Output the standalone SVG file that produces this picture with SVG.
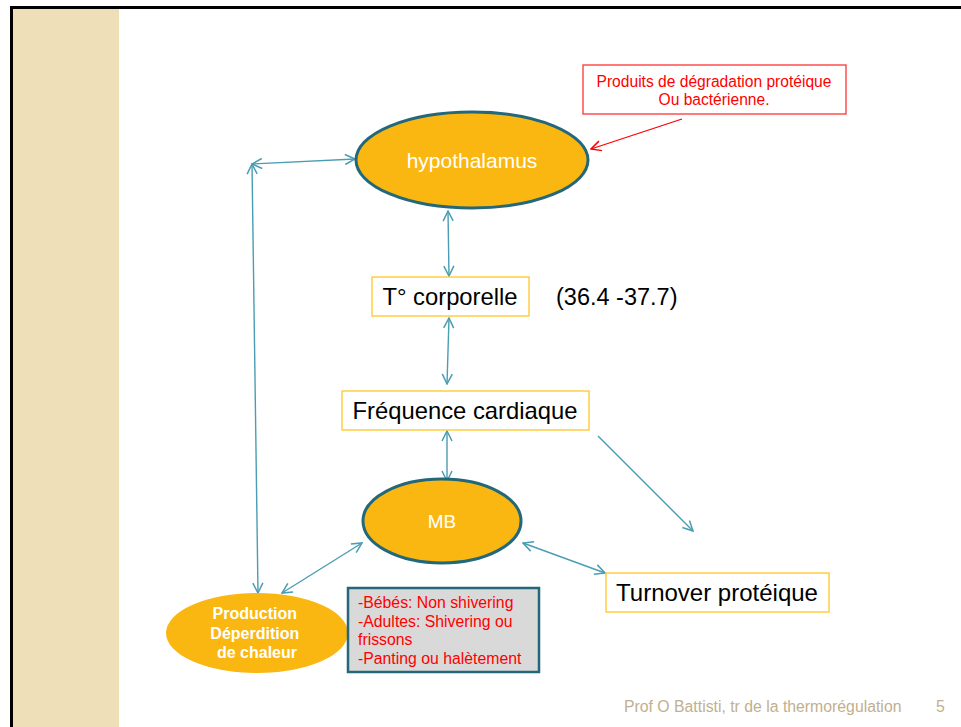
<svg xmlns="http://www.w3.org/2000/svg" width="961" height="727" viewBox="0 0 961 727">
<defs>
<marker id="ah" viewBox="0 0 12 12" refX="11" refY="6" markerWidth="12" markerHeight="12" markerUnits="userSpaceOnUse" orient="auto-start-reverse">
<path d="M1,1 L11,6 L1,11" fill="none" stroke="#4A9DB3" stroke-width="1.5"/>
</marker>
<marker id="ahr" viewBox="0 0 12 12" refX="11" refY="6" markerWidth="12" markerHeight="12" markerUnits="userSpaceOnUse" orient="auto">
<path d="M1,1 L11,6 L1,11" fill="none" stroke="#FF0000" stroke-width="1.5"/>
</marker>
</defs>
<style>
.c{stroke:#4A9DB3;stroke-width:1.4;fill:none}
.ell{fill:#FBB711;stroke:#23687A;stroke-width:3}
.box{fill:#FFFFFF;stroke:#FFC629;stroke-width:1.3}
.t{font-family:"Liberation Sans",Arial,sans-serif}
</style>
<rect x="0" y="0" width="961" height="727" fill="#FFFFFF"/>
<rect x="13" y="9" width="106" height="718" fill="#EFDFB8"/>
<rect x="10" y="6" width="951" height="3" fill="#000"/>
<rect x="10" y="6" width="3" height="721" fill="#000"/>

<g id="connectors">
<line class="c" x1="252" y1="164" x2="355" y2="159" marker-start="url(#ah)" marker-end="url(#ah)"/>
<line class="c" x1="252" y1="164" x2="258" y2="593" marker-start="url(#ah)" marker-end="url(#ah)"/>
<line class="c" x1="448" y1="211" x2="449" y2="276" marker-start="url(#ah)" marker-end="url(#ah)"/>
<line class="c" x1="449" y1="318" x2="447" y2="384" marker-start="url(#ah)" marker-end="url(#ah)"/>
<line class="c" x1="447" y1="431" x2="447" y2="481" marker-start="url(#ah)" marker-end="url(#ah)"/>
<line class="c" x1="598" y1="436" x2="693" y2="531" marker-end="url(#ah)"/>
<line class="c" x1="523" y1="543" x2="605" y2="573" marker-start="url(#ah)" marker-end="url(#ah)"/>
<line class="c" x1="362" y1="543" x2="282" y2="593" marker-start="url(#ah)" marker-end="url(#ah)"/>
<line x1="682" y1="119" x2="591" y2="149" stroke="#FF0000" stroke-width="1.3" marker-end="url(#ahr)"/>
</g>

<g id="produits">
<rect x="583" y="65" width="263" height="49" fill="#FFFFFF" stroke="#FF3333" stroke-width="1.3"/>
<text class="t" x="714" y="87" font-size="15.6" fill="#FF0000" text-anchor="middle">Produits de dégradation protéique</text>
<text class="t" x="714" y="105" font-size="15.6" fill="#FF0000" text-anchor="middle">Ou bactérienne.</text>
</g>

<g id="hypothalamus">
<ellipse class="ell" cx="472" cy="160" rx="116" ry="48"/>
<text class="t" x="472" y="168" font-size="21" fill="#FFFFFF" text-anchor="middle">hypothalamus</text>
</g>

<g id="temperature">
<rect class="box" x="372" y="277" width="157" height="39"/>
<text class="t" x="450" y="305" font-size="23.8" fill="#000" text-anchor="middle">T° corporelle</text>
</g>
<g id="range">
<text class="t" x="556" y="305" font-size="23.5" fill="#000">(36.4 -37.7)</text>
</g>

<g id="frequence">
<rect class="box" x="342" y="391" width="247" height="39"/>
<text class="t" x="465" y="419" font-size="23.8" fill="#000" text-anchor="middle">Fréquence cardiaque</text>
</g>

<g id="mb">
<ellipse class="ell" cx="442" cy="521" rx="79" ry="42"/>
<text class="t" x="442" y="528" font-size="19" fill="#FFFFFF" text-anchor="middle">MB</text>
</g>

<g id="turnover">
<rect class="box" x="606" y="573" width="223" height="39"/>
<text class="t" x="717" y="601" font-size="24" fill="#000" text-anchor="middle">Turnover protéique</text>
</g>

<g id="production">
<ellipse cx="257" cy="633" rx="91" ry="40" fill="#FBB711"/>
<text class="t" font-size="16" font-weight="bold" fill="#FFFFFF" text-anchor="middle">
<tspan x="257" y="619">Production</tspan>
<tspan x="257" y="639">Déperdition</tspan>
<tspan x="257" y="658">de chaleur</tspan>
</text>
</g>

<g id="notes">
<rect x="348" y="588" width="191" height="84" fill="#D9D9D9" stroke="#23687A" stroke-width="2.5"/>
<text class="t" font-size="15.8" fill="#FF0000">
<tspan x="358" y="608">-Bébés: Non shivering</tspan>
<tspan x="358" y="627">-Adultes: Shivering ou</tspan>
<tspan x="358" y="645">frissons</tspan>
<tspan x="358" y="664">-Panting ou halètement</tspan>
</text>
</g>

<g id="footer">
<text class="t" x="624" y="712" font-size="15.8" fill="#BFB08F">Prof O Battisti, tr de la thermorégulation</text>
<text class="t" x="936" y="712" font-size="15.8" fill="#BFB08F">5</text>
</g>
</svg>
